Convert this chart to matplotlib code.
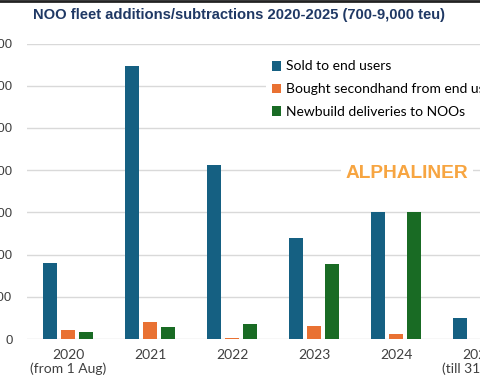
import matplotlib.pyplot as plt
import numpy as np

# values (y-axis labels are cropped in the original)
years = ['2020\n(from 1 Aug)', '2021', '2022', '2023', '2024', '2025\n(till 31 May)']
sold = [180, 648, 412, 239, 302, 50]
bought = [21, 40, 3, 31, 12, 0]
newbuild = [17, 28, 35, 178, 302, 0]
yticks = [0, 100, 200, 300, 400, 500, 600, 700]

fig = plt.figure(figsize=(4.8, 3.84), dpi=100)
# axes runs past the right edge, like the cropped screenshot
ax = fig.add_axes([27 / 480, 45 / 384, 492 / 480, 295.4 / 384])

x = np.arange(len(years))
w = 0.17
step = 0.22
ax.bar(x - step, sold, w, color='#156082', label='Sold to end users', zorder=2)
ax.bar(x, bought, w, color='#E97132', label='Bought secondhand from end users', zorder=2)
ax.bar(x + step, newbuild, w, color='#196B24', label='Newbuild deliveries to NOOs', zorder=2)

ax.set_xlim(-0.5, 5.5)
ax.set_ylim(0, 700)
ax.set_yticks(yticks)
ax.set_xticks(x)
ax.set_xticklabels(years, fontsize=10, color='#404040', family='Lato')
ax.tick_params(axis='y', length=0, pad=10.5, labelsize=9.5, labelcolor='#404040')
ax.tick_params(axis='x', length=0, pad=7)
for lab in ax.get_yticklabels():
    lab.set_family('Liberation Sans')
ax.yaxis.grid(True, color='#D9D9D9', linewidth=1)
ax.set_axisbelow(True)
for s in ax.spines.values():
    s.set_visible(False)

fig.legend(loc='upper left', bbox_to_anchor=(259 / 480, 1 - 48 / 384),
           prop={'family': 'Lato', 'size': 10}, frameon=True, facecolor='white',
           edgecolor='none', framealpha=1, fancybox=False,
           handlelength=0.7, handleheight=0.7, handletextpad=0.35,
           labelspacing=0.78, borderpad=0.4)

fig.text(407 / 480, 1 - 174 / 384, 'ALPHALINER', ha='center', va='center',
         fontsize=13.8, fontweight='bold', color='#F7A541', family='Liberation Sans',
         bbox=dict(facecolor='white', edgecolor='none', pad=3))

fig.text(239 / 480, 1 - 15 / 384, 'NOO fleet additions/subtractions 2020-2025 (700-9,000 teu)',
         ha='center', va='center', fontsize=10.6, fontweight='bold', color='#1F3864',
         family='Liberation Sans')

fig.add_artist(plt.Line2D([0, 1], [0.998, 0.998], transform=fig.transFigure,
                          color='#222222', linewidth=2))

fig.savefig('out.png', dpi=100)
